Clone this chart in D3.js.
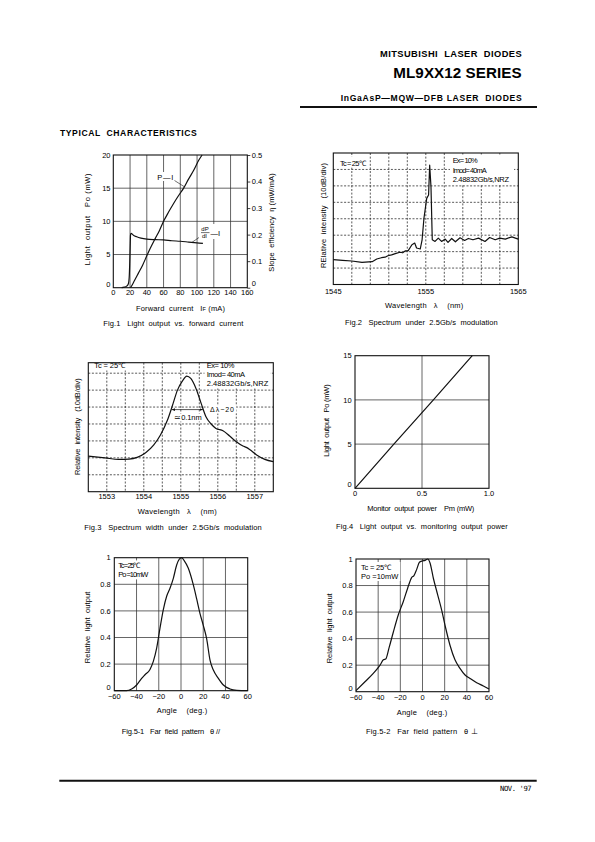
<!DOCTYPE html>
<html><head><meta charset="utf-8">
<script src="https://cdn.jsdelivr.net/npm/d3@7"></script>
<style>
body{margin:0;background:#fff}
svg{display:block}
text{font-family:"Liberation Sans",Arial,Helvetica,sans-serif;fill:#000;white-space:pre}
</style></head><body>
<svg id="page" width="595" height="842"></svg>
<script>
// ---------------- DATA ----------------
// Fig.1  Light output vs forward current
const fig1XTicks = [0,20,40,60,80,100,120,140,160];
const fig1YTicks = [0,5,10,15,20];
const fig1Y2Ticks = [0,0.1,0.2,0.3,0.4,0.5];
const fig1PI = [[20.5,0],[22,0.3],[25,1.0],[30,2.2],[35,3.4],[40,4.8],[44,5.9],[50,7.4],[55,8.6],[60,10],[66,11.4],[72,12.7],[78,13.9],[84,15],[90,16.4],[96,17.7],[102,19.2],[106,20]];
const fig1Slope = [[10,0],[13,0.002],[16,0.006],[18,0.015],[19,0.04],[19.6,0.09],[20.1,0.15],[20.6,0.2],[21.2,0.205],[24,0.198],[28,0.192],[33,0.187],[40,0.183],[50,0.181],[60,0.18],[70,0.177],[80,0.175],[90,0.172],[100,0.169],[107,0.167]];
// Fig.2  Spectrum (x: nm, y: divisions of 10 dB)
const fig2XTicks = [1545,1555,1565];
const fig2Spectrum = [[1545,1.51],[1546,1.47],[1547,1.43],[1548.1,1.35],[1549.2,1.39],[1549.7,1.55],[1550.2,1.63],[1550.6,1.66],[1550.9,1.75],[1551.3,1.8],[1551.7,1.88],[1552.2,1.96],[1552.5,1.93],[1552.8,2.05],[1553.1,2.06],[1553.5,2.42],[1553.8,2.52],[1554.0,2.22],[1554.4,2.16],[1554.6,2.72],[1554.8,4.03],[1555.1,5.24],[1555.3,5.44],[1555.42,7.26],[1555.56,5.95],[1555.7,2.72],[1556.0,2.62],[1556.35,2.82],[1556.7,2.62],[1557.1,2.76],[1557.4,2.56],[1557.8,2.8],[1558.2,2.6],[1558.7,2.84],[1559.2,2.68],[1559.6,2.8],[1560.1,2.72],[1560.7,2.82],[1561.4,2.62],[1561.9,2.86],[1562.5,2.72],[1563.0,2.82],[1563.6,2.76],[1564.3,2.9],[1565,2.76]];
// Fig.3  Spectrum width
const fig3XTicks = [1553,1554,1555,1556,1557];
const fig3Spectrum = [[1552.5,2.1],[1552.95,2.0],[1553.32,1.91],[1553.6,1.93],[1553.82,2.03],[1554.05,2.3],[1554.27,2.76],[1554.45,3.35],[1554.64,4.23],[1554.77,5.06],[1554.91,6.0],[1555.05,6.56],[1555.16,6.83],[1555.27,6.69],[1555.41,6.1],[1555.55,5.22],[1555.68,4.43],[1555.82,4.0],[1555.95,3.74],[1556.14,3.6],[1556.32,3.29],[1556.5,2.95],[1556.68,2.7],[1556.77,2.62],[1556.86,2.5],[1557.05,2.17],[1557.27,1.91],[1557.5,1.78]];
const fig3Width = [1554.75,1555.6];   // -20 dB width markers (nm)
const fig3WidthLevel = 4.85;          // level of the width arrow (div)
// Fig.4  Light output vs monitor output power
const fig4XTicks = [0,0.5,1.0];
const fig4YTicks = [0,5,10,15];
const fig4Line = [[0,0],[0.29,5],[0.585,10],[0.875,15]];
// Fig.5  Far field patterns
const fig5XTicks = [-60,-40,-20,0,20,40,60];
const fig5YTicks = [0,0.2,0.4,0.6,0.8,1];
const fig5Para = [[-60,0],[-48.9,0],[-44.4,0.013],[-39.9,0.043],[-35.4,0.093],[-32.4,0.12],[-27.9,0.16],[-24.9,0.22],[-21.9,0.32],[-18.9,0.47],[-15.9,0.61],[-12.9,0.71],[-9.9,0.77],[-6.9,0.845],[-3.9,0.945],[-1.5,0.99],[0.6,1.0],[2.7,0.98],[6.6,0.92],[11.1,0.795],[14.1,0.69],[17.1,0.58],[20.1,0.49],[23.1,0.39],[26.1,0.23],[29.1,0.155],[33.6,0.093],[38.1,0.043],[44.1,0.013],[50.1,0.003],[60,0]];
const fig5Perp = [[-60,0.008],[-51.9,0.075],[-44.4,0.138],[-38.3,0.2],[-35.3,0.24],[-33.2,0.246],[-30.2,0.33],[-26.3,0.45],[-21.8,0.58],[-17.3,0.68],[-13.4,0.78],[-9.8,0.86],[-7.7,0.875],[-5.3,0.92],[-2.8,0.975],[-0.1,0.985],[2.3,0.99],[4.7,1.0],[6.8,0.97],[9.8,0.855],[13.7,0.73],[17.3,0.615],[20.9,0.48],[24.8,0.35],[29.3,0.24],[33.8,0.176],[38.4,0.126],[42.9,0.1],[48.9,0.068],[54.9,0.043],[60,0.02]];

// ---------------- HELPERS ----------------
const FS = 7.5;
const svg = d3.select('#page');
svg.append('defs').append('marker').attr('id','arr').attr('viewBox','0 0 10 10')
  .attr('refX',10).attr('refY',5).attr('markerWidth',5).attr('markerHeight',5)
  .attr('orient','auto-start-reverse').append('path').attr('d','M0,1 L10,5 L0,9 z').attr('fill','#111');

function txt(sel, s, x, y, o = {}) {
  const t = sel.append('text').attr('x', x).attr('y', y)
    .style('font-size', (o.size || FS) + 'px')
    .style('font-weight', o.bold ? 'bold' : 'normal')
    .attr('text-anchor', o.anchor || 'start');
  if (o.family) t.style('font-family', o.family);
  if (o.parts) {
    o.parts.forEach(p => {
      const ts = t.append('tspan').text(p[0]);
      if (p[1]) ts.style('font-size', p[1] + 'px');
    });
  } else t.text(s);
  if (o.len) t.attr('textLength', o.len).attr('lengthAdjust', 'spacing');
  if (o.rotate) t.attr('transform', `rotate(-90,${x},${y})`);
  return t;
}
function blank(sel, x, y, w, h) {
  sel.append('rect').attr('x', x).attr('y', y).attr('width', w).attr('height', h).attr('fill', '#fff');
}
function chart(box, xd, yd) {
  const x = d3.scaleLinear().domain(xd).range([box.x0, box.x1]);
  const y = d3.scaleLinear().domain(yd).range([box.y1, box.y0]);
  const g = svg.append('g');
  return { x, y, g, box };
}
function grid(c, xs, ys, dash, color) {
  const gg = c.g.append('g').attr('stroke', color || '#333').attr('stroke-width', 0.75)
    .attr('stroke-dasharray', dash || null);
  gg.selectAll('.vx').data(xs).join('line')
    .attr('x1', d => c.x(d)).attr('x2', d => c.x(d)).attr('y1', c.box.y0).attr('y2', c.box.y1);
  gg.selectAll('.hy').data(ys).join('line').attr('class','hy')
    .attr('y1', d => c.y(d)).attr('y2', d => c.y(d)).attr('x1', c.box.x0).attr('x2', c.box.x1);
}
function frame(c) {
  c.g.append('rect').attr('x', c.box.x0).attr('y', c.box.y0)
    .attr('width', c.box.x1 - c.box.x0).attr('height', c.box.y1 - c.box.y0)
    .attr('fill', 'none').attr('stroke', '#111').attr('stroke-width', 1.1);
}
function curve(c, data, cv) {
  c.g.append('path').datum(data)
    .attr('d', d3.line().x(d => c.x(d[0])).y(d => c.y(d[1])).curve(cv || d3.curveMonotoneX))
    .attr('fill', 'none').attr('stroke', '#111').attr('stroke-width', 1.2).attr('stroke-linejoin','round');
}
function xLabels(c, ticks, base, fmt) {
  c.g.append('g').selectAll('text').data(ticks).join('text')
    .attr('x', d => c.x(d)).attr('y', base).attr('text-anchor', 'middle')
    .style('font-size', FS + 'px').text(fmt || (d => d));
}
function yLabels(c, ticks, right, fmt) {
  c.g.append('g').selectAll('text').data(ticks).join('text')
    .attr('x', right).attr('y', d => c.y(d) + (d === 0 ? -1 : 2.7)).attr('text-anchor', 'end')
    .style('font-size', FS + 'px').text(fmt || (d => d));
}

// ---------------- PAGE HEADER ----------------
txt(svg, 'MITSUBISHI  LASER  DIODES', 380, 56.9, { size: 9.3, bold: true, len: 141.7 });
txt(svg, 'ML9XX12 SERIES', 393.3, 77.6, { size: 15.2, bold: true, len: 128.4 });
txt(svg, 'InGaAsP\u2014MQW\u2014DFB LASER  DIODES', 340.7, 100.6, { size: 8.6, bold: true, len: 181 });
svg.append('line').attr('x1', 300).attr('x2', 537).attr('y1', 107).attr('y2', 107).attr('stroke', '#111').attr('stroke-width', 2);
txt(svg, 'TYPICAL  CHARACTERISTICS', 60, 135.6, { size: 8.6, bold: true, len: 136.7 });

// ---------------- FIG 1 ----------------
{
  const c = chart({ x0: 113.3, x1: 247.3, y0: 155, y1: 287.7 }, [0, 160], [0, 20]);
  const y2 = d3.scaleLinear().domain([0, 0.5]).range([287.7, 155]);
  grid(c, fig1XTicks.slice(1, -1), fig1YTicks.slice(1, -1), null, '#333');
  frame(c);
  curve(c, fig1PI, d3.curveMonotoneX);
  c.g.append('path').datum(fig1Slope)
    .attr('d', d3.line().x(d => c.x(d[0])).y(d => y2(d[1])).curve(d3.curveMonotoneX))
    .attr('fill', 'none').attr('stroke', '#111').attr('stroke-width', 1.2);
  const ra = c.g.append('g').attr('transform', `translate(${c.box.x1},0)`)
    .call(d3.axisRight(y2).tickValues(fig1Y2Ticks).tickSize(3).tickPadding(1.5).tickFormat(d => d === 0 ? '0' : d3.format('.1f')(d)));
  ra.select('.domain').remove();
  ra.selectAll('line').attr('stroke', '#111').attr('stroke-width', 0.8);
  ra.selectAll('text').style('font-size', FS + 'px').attr('font-family', null).attr('fill', '#000');
  ra.selectAll('.tick').filter(d => d === 0).select('text').attr('y', -4.5);
  yLabels(c, fig1YTicks, 110.5);
  xLabels(c, fig1XTicks, 294.8);
  // annotations
  blank(c.g, 156, 172, 18, 9);
  txt(c.g, 'P\u2014I', 157.3, 179.5, { len: 16 });
  c.g.append('line').attr('x1', 174.5).attr('y1', 180.5).attr('x2', c.x(85)).attr('y2', c.y(15.2)).attr('stroke', '#111').attr('stroke-width', 0.6);
  blank(c.g, 200, 224, 23, 15);
  txt(c.g, 'dP', 201.3, 230.6, { size: 6 });
  c.g.append('line').attr('x1', 201).attr('x2', 209.5).attr('y1', 232.6).attr('y2', 232.6).attr('stroke', '#111').attr('stroke-width', 0.6);
  txt(c.g, 'dI', 202, 238.3, { size: 6 });
  txt(c.g, '\u2014I', 210.5, 235.8);
  c.g.append('line').attr('x1', 199).attr('y1', 237.5).attr('x2', c.x(94)).attr('y2', y2(0.171)).attr('stroke', '#111').attr('stroke-width', 0.6);
  // axis titles
  txt(c.g, 'Light  output   Po (mW)', 90.2, 219.3, { rotate: true, anchor: 'middle', len: 91.7 });
  txt(c.g, 'Slope  efficiency  \u03b7 (mW/mA)', 274.4, 222.5, { rotate: true, anchor: 'middle', len: 98.3 });
  txt(c.g, '', 136, 310.9, { parts: [['Forward  current   I'], ['F', 5.5], [' (mA)']], len: 89 });
  txt(c.g, 'Fig.1   Light  output  vs.  forward  current', 103.3, 325.9, { len: 140 });
}

// ---------------- FIG 2 ----------------
{
  const c = chart({ x0: 333.3, x1: 518.3, y0: 153, y1: 284.5 }, [1545, 1565], [0, 8]);
  grid(c, d3.range(1547, 1564, 2), d3.range(1, 8), '2,1.6', '#222');
  blank(c.g, 337, 156.5, 32, 11);
  blank(c.g, 450, 154.5, 64, 30);
  frame(c);
  curve(c, fig2Spectrum, d3.curveLinear);
  xLabels(c, fig2XTicks, 293.8);
  txt(c.g, 'Tc = 25\u2103', 340, 165.5, { len: 25.5 });
  txt(c.g, 'Ex= 10%', 452.7, 162.5, { len: 25 });
  txt(c.g, 'Imod= 40mA', 452.7, 172.7, { len: 34 });
  txt(c.g, '2.48832Gb/s,NRZ', 452.7, 182.4, { len: 56.3 });
  txt(c.g, 'RElative  intensity   (10dB/div)', 326.2, 215.5, { rotate: true, anchor: 'middle', len: 105 });
  txt(c.g, 'Wavelength   \u03bb    (nm)', 385, 307.5, { len: 78.3 });
  txt(c.g, 'Fig.2   Spectrum  under  2.5Gb/s  modulation', 345, 325.2, { len: 152.7 });
}

// ---------------- FIG 3 ----------------
{
  const c = chart({ x0: 88.3, x1: 273.3, y0: 362.7, y1: 491.7 }, [1552.5, 1557.5], [0, 7.62]);
  grid(c, d3.range(1553, 1557.01, 0.5), d3.range(1, 8), '2,1.6', '#222');
  blank(c.g, 92, 360.5, 36, 10);
  blank(c.g, 204.5, 360.5, 66, 28);
  frame(c);
  curve(c, fig3Spectrum, d3.curveMonotoneX);
  xLabels(c, fig3XTicks, 498.5);
  c.g.append('line').attr('x1', c.x(fig3Width[0])).attr('x2', c.x(fig3Width[1]))
    .attr('y1', c.y(fig3WidthLevel)).attr('y2', c.y(fig3WidthLevel))
    .attr('stroke', '#111').attr('stroke-width', 0.7)
    .attr('marker-start', 'url(#arr)').attr('marker-end', 'url(#arr)');
  blank(c.g, 208.5, 405.5, 28, 8);
  txt(c.g, '\u0394\u03bb\u221220', 210, 411.9, { size: 7, len: 24 });
  blank(c.g, 173.5, 413.5, 29, 8);
  txt(c.g, '\u22430.1nm', 174.3, 420.2, { len: 27.4 });
  txt(c.g, 'Tc = 25\u2103', 94.3, 367.7, { len: 30.7 });
  txt(c.g, 'Ex= 10%', 206.7, 367.7, { len: 27.6 });
  txt(c.g, 'Imod= 40mA', 206.7, 377, { len: 38.3 });
  txt(c.g, '2.48832Gb/s,NRZ', 206.7, 386, { len: 61.6 });
  txt(c.g, 'Relative  intensity   (10dB/div)', 80.4, 426.7, { rotate: true, anchor: 'middle', len: 96.7 });
  txt(c.g, 'Wavelength   \u03bb    (nm)', 137.7, 514.2, { len: 79 });
  txt(c.g, 'Fig.3   Spectrum  width  under  2.5Gb/s  modulation', 84.3, 530.2, { len: 177.4 });
}

// ---------------- FIG 4 ----------------
{
  const c = chart({ x0: 355, x1: 489, y0: 355.7, y1: 488.3 }, [0, 1], [0, 15]);
  grid(c, [0.5], [5, 10], null, '#333');
  frame(c);
  curve(c, fig4Line, d3.curveLinear);
  yLabels(c, fig4YTicks, 351.7);
  xLabels(c, fig4XTicks, 495.9, d => d === 0 ? '0' : d3.format('.1f')(d));
  txt(c.g, 'Light  output   Po (mW)', 329.4, 420.5, { rotate: true, anchor: 'middle', len: 72.4 });
  txt(c.g, 'Monitor  output  power    Pm (mW)', 367.3, 510.9, { len: 107 });
  txt(c.g, 'Fig.4   Light  output  vs.  monitoring  output  power', 336, 529.2, { len: 171.7 });
}

// ---------------- FIG 5 ----------------
function farField(box, data, yRight, xBase, ylx, yly, yll, xlx, xlb, cap, capx, capl, tcx, tcy, tcl, pol) {
  const c = chart(box, [-60, 60], [0, 1]);
  grid(c, [-40, -20, 0, 20, 40], [0.2, 0.4, 0.6, 0.8], null, '#333');
  blank(c.g, tcx - 2, tcy - 7.5, pol + 4, 19);
  frame(c);
  curve(c, data, d3.curveMonotoneX);
  yLabels(c, fig5YTicks, yRight, d => d === 0 || d === 1 ? String(d) : d3.format('.1f')(d));
  xLabels(c, fig5XTicks, xBase, d => d < 0 ? '\u2212' + Math.abs(d) : String(d));
  txt(c.g, 'Tc = 25\u2103', tcx, tcy, { len: tcl });
  txt(c.g, 'Po =10mW', tcx, tcy + 9, { len: pol });
  txt(c.g, 'Relative  light  output', ylx, yly, { rotate: true, anchor: 'middle', len: yll });
  txt(c.g, 'Angle    (deg.)', xlx, xlb, { len: 50.5 });
  txt(c.g, cap, capx, 733.9, { len: capl });
}
farField({ x0: 114.3, x1: 247.7, y0: 557.7, y1: 690.7 }, fig5Para, 110.7, 698.8, 90, 627.5, 71.6, 156.7, 712.5,
  'Fig.5-1   Far  field  pattern   \u03b8 //', 121.7, 98.3, 118.3, 567.9, 21.7, 30);
farField({ x0: 356, x1: 489, y0: 559, y1: 691.7 }, fig5Perp, 352.7, 699.8, 331.7, 628.3, 70, 396.7, 714.5,
  'Fig.5-2   Far  field  pattern   \u03b8 \u22a5', 366, 111.7, 361, 569.5, 30, 37.3);

// ---------------- FOOTER ----------------
svg.append('line').attr('x1', 59.3).attr('x2', 536.7).attr('y1', 780.7).attr('y2', 780.7).attr('stroke', '#111').attr('stroke-width', 2);
txt(svg, "NOV. '97", 500, 790.5, { size: 7.2, family: '"DejaVu Sans Mono", "Liberation Mono", monospace', len: 31.7 });
</script>
</body></html>
